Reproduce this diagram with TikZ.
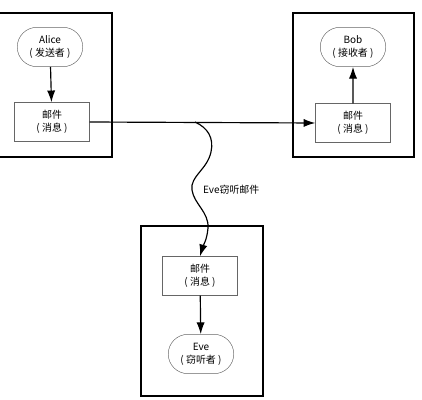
\documentclass[tikz,border=0pt]{standalone}
\usepackage{fontspec}
\setmainfont{Noto Sans CJK SC}
\usetikzlibrary{positioning}
\usetikzlibrary{shapes.misc}
\usetikzlibrary{arrows.meta}

\begin{document}
\begin{tikzpicture}[
  x=0.03cm, y=-0.03cm,
  every node/.style={font=\fontsize{8.5}{11}\selectfont},
  frame/.style={draw, line width=1.3pt},
  msg/.style={
    draw=black!60, thin, align=center,
    minimum width=2.25cm, minimum height=1.17cm
  },
  party/.style={
    draw=black!60, thin, rounded rectangle, align=center,
    minimum width=2.2cm, minimum height=1.18cm
  },
  arrow/.style={-{Latex[length=10pt,width=7pt]}, line width=1pt}
]
\useasboundingbox (0,0) rectangle (422,400);

% Frames
\draw[frame] (-5,13) rectangle (112,157);
\draw[frame] (293,13) rectangle (414,157);
\draw[frame] (141,226) rectangle (263,396);

% Nodes
\node[party] (alice) at (50,47) {Alice\\( 发送者 )};
\node[msg] (mail1) at (52,122) {邮件\\( 消息 )};
\node[party] (bob) at (353,47) {Bob\\( 接收者 )};
\node[msg] (mail2) at (353,123) {邮件\\( 消息 )};
\node[msg] (mail3) at (200,276) {邮件\\( 消息 )};
\node[party] (eve) at (201,354) {Eve\\( 窃听者 )};
\node[anchor=west] (tapnote) at (199,190) {Eve窃听邮件};
\coordinate (tap) at (195,122);

% Arrows
\draw[arrow] (alice) -- (mail1);
\draw[arrow] (mail1.east) -- (mail2.west);
\draw[arrow] (mail2) -- (bob);
\draw[arrow] (mail3) -- (eve);
\draw[arrow] (tap) .. controls (208,128) and (214,138) .. (211,152)
  .. controls (207,170) and (190,176) .. (192,190)
  .. controls (194,204) and (209,212) .. (208,228)
  .. controls (207,240) and (203,246) .. (mail3.north);
\end{tikzpicture}
\end{document}
